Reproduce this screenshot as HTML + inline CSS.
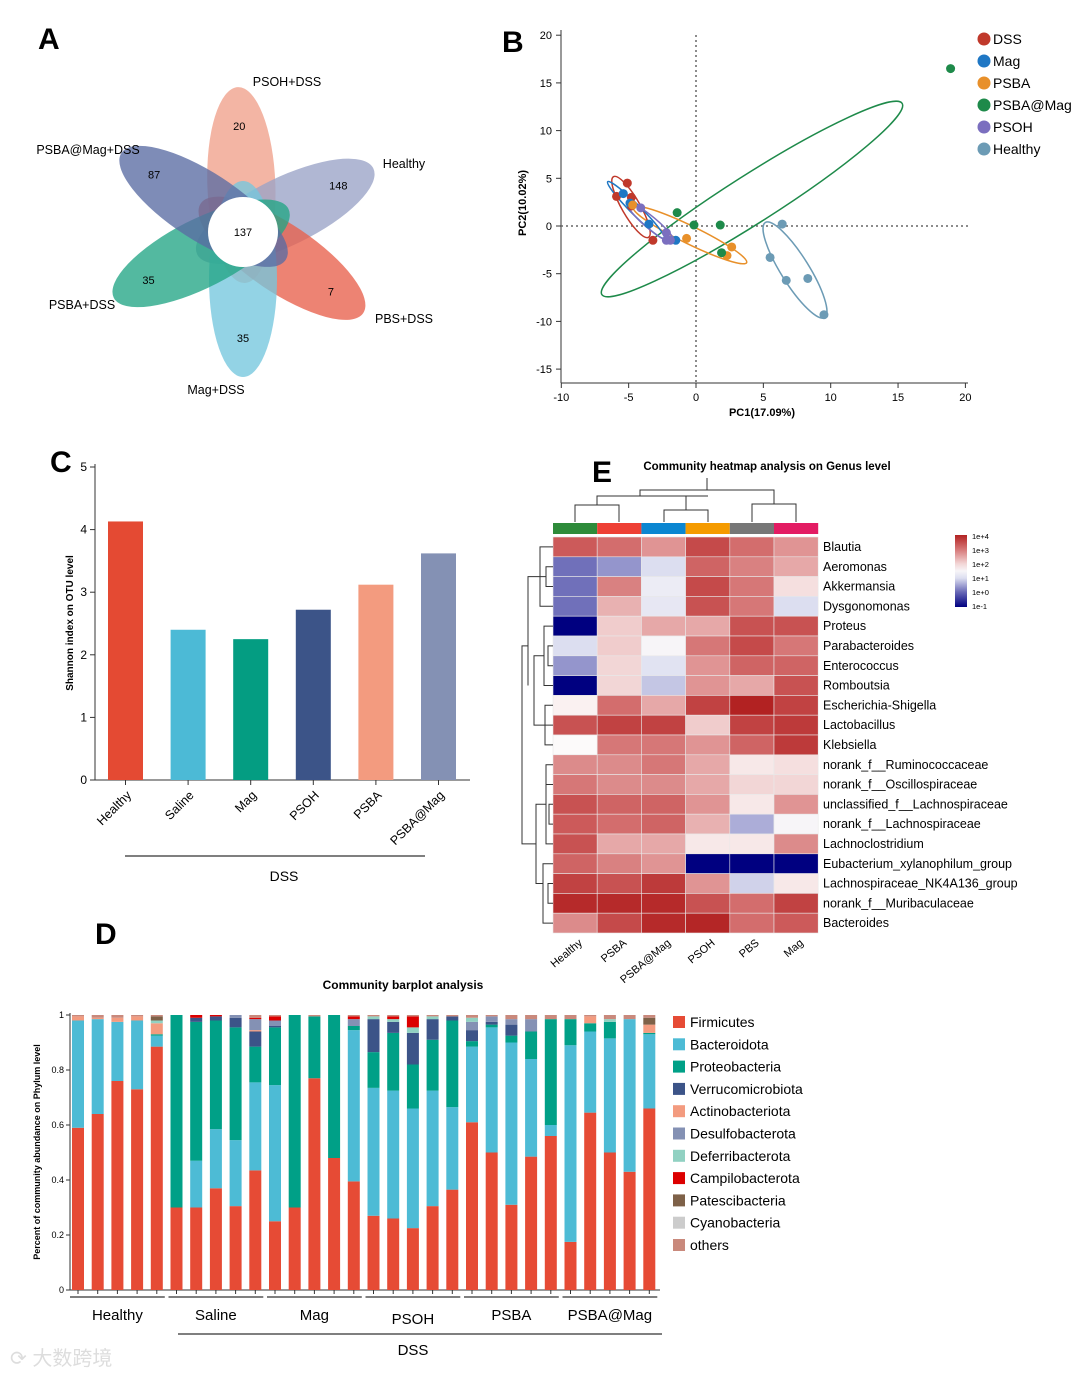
<!DOCTYPE html>
<html><head><meta charset="utf-8"><style>
body{margin:0;background:#fff}
svg{display:block;font-family:"Liberation Sans",Arial,sans-serif}
</style></head><body>
<svg id="fig" width="1080" height="1377" viewBox="0 0 1080 1377">
<text x="38" y="49" font-size="30" font-weight="bold">A</text>
<text x="502" y="52" font-size="30" font-weight="bold">B</text>
<text x="50" y="472" font-size="30" font-weight="bold">C</text>
<text x="592" y="482" font-size="30" font-weight="bold">E</text>
<text x="95" y="944" font-size="30" font-weight="bold">D</text>

<g id="venn"></g>
<g id="pca"></g>
<g id="shannon"></g>
<g id="heat"></g>
<g id="stack"></g>
<text x="10" y="1365" font-size="20" fill="#ddd" font-family="'Liberation Sans','Noto Sans CJK SC',sans-serif">⟳ 大数跨境</text>
</svg>
<script>
const NS="http://www.w3.org/2000/svg";
function mk(parent,tag,attrs,text){const e=document.createElementNS(NS,tag);for(const k in attrs)e.setAttribute(k,attrs[k]);if(text!==undefined)e.textContent=text;parent.appendChild(e);return e;}

// ---------- Venn (A) ----------
const vennSets=["PSOH+DSS","Healthy","PBS+DSS","Mag+DSS","PSBA+DSS","PSBA@Mag+DSS"];
const vennUnique=[20,148,7,35,35,87];
const vennCore=137;
const vennAngles=[-92,-26,34,90,153,-147];
const vennColors=["#f0a08a","#9aa3c6","#e8604c","#74c6de","#22a585","#5a6ca3"];
const venn=document.getElementById('venn');
const vc=[243,232];
vennSets.forEach((s,i)=>{
  const a=vennAngles[i]*Math.PI/180;
  const cx=vc[0]+47*Math.cos(a), cy=vc[1]+47*Math.sin(a);
  const e=mk(venn,'ellipse',{cx:cx,cy:cy,rx:98,ry:34,transform:`rotate(${vennAngles[i]} ${cx} ${cy})`,fill:vennColors[i],'fill-opacity':0.78});
  
  
  const tx=vc[0]+106*Math.cos(a), ty=vc[1]+106*Math.sin(a);
  const t=mk(venn,'text',{x:tx,y:ty+4,'font-size':11,'text-anchor':'middle'},vennUnique[i]);
  
  
});
mk(venn,'circle',{cx:vc[0],cy:vc[1],r:35,fill:'#fff'});
mk(venn,'text',{x:vc[0],y:vc[1]+4,'font-size':11,'text-anchor':'middle'},vennCore);
const vennLabelPos=[[287,86],[404,168],[404,323],[216,394],[82,309],[88,154]];
vennSets.forEach((s,i)=>{const t=mk(venn,'text',{x:vennLabelPos[i][0],y:vennLabelPos[i][1],'font-size':12.5,'text-anchor':'middle'},s);

});

// ---------- PCA (B) ----------
const pcaGroups=["DSS","Mag","PSBA","PSBA@Mag","PSOH","Healthy"];
const pcaColors=["#c0392b","#1f77c4","#e8902a","#1e8a4a","#7b6fbf","#6c9bb5"];
const pcaDSS=[[-5.1,4.5],[-5.9,3.1],[-4.8,3.0],[-4.8,2.1],[-3.2,-1.5]];
const pcaMag=[[-5.4,3.4],[-3.5,0.2],[-1.5,-1.5],[-4.9,2.4]];
const pcaPSBA=[[-4.7,2.2],[-0.7,-1.3],[2.65,-2.2],[2.3,-3.1]];
const pcaPSBAMag=[[-1.4,1.4],[-0.15,0.1],[1.8,0.1],[1.9,-2.8],[18.9,16.5]];
const pcaPSOH=[[-4.1,1.9],[-2.2,-0.7],[-2.2,-1.5],[-1.9,-1.5]];
const pcaHealthy=[[6.4,0.2],[5.5,-3.3],[6.7,-5.7],[8.3,-5.5],[9.5,-9.3]];
const pcaXTicks=[-10,-5,0,5,10,15,20];
const pcaYTicks=[20,15,10,5,0,-5,-10,-15];
const pca=document.getElementById('pca');
const px=v=>696+(v)*13.47, py=v=>226-v*9.54;
mk(pca,'line',{x1:561,y1:30,x2:561,y2:383,stroke:'#333'});
mk(pca,'line',{x1:561,y1:383,x2:968,y2:383,stroke:'#333'});
mk(pca,'line',{x1:px(0),y1:35,x2:px(0),y2:383,stroke:'#666','stroke-dasharray':'2,3','stroke-width':1.5});
mk(pca,'line',{x1:561,y1:py(0),x2:968,y2:py(0),stroke:'#666','stroke-dasharray':'2,3','stroke-width':1.5});
pcaXTicks.forEach(v=>{mk(pca,'line',{x1:px(v),y1:383,x2:px(v),y2:388,stroke:'#333'});
 const t=mk(pca,'text',{x:px(v),y:401,'font-size':11,'text-anchor':'middle'},v);
 
 });
pcaYTicks.forEach(v=>{mk(pca,'line',{x1:556,y1:py(v),x2:561,y2:py(v),stroke:'#333'});
 const t=mk(pca,'text',{x:552,y:py(v)+4,'font-size':11,'text-anchor':'end'},v);
 
 });
const xt=mk(pca,'text',{x:762,y:416,'font-size':11,'font-weight':'bold','text-anchor':'middle'},'PC1(17.09%)');

const yt=mk(pca,'text',{x:0,y:0,'font-size':11,'font-weight':'bold','text-anchor':'middle',transform:'translate(526,203) rotate(-90)'},'PC2(10.02%)');

const ells=[[752,199,178,24,-32.5,3],[690,235,63,9,26,2],[631,207,35,9,60,0],[636,210,40,5,45,1],[651,223,30,6,40,4],[795,270,56,14,58,5]];
ells.forEach(e=>{const el=mk(pca,'ellipse',{cx:e[0],cy:e[1],rx:e[2],ry:e[3],transform:`rotate(${e[4]} ${e[0]} ${e[1]})`,fill:'none',stroke:pcaColors[e[5]],'stroke-width':1.5});
 });
[pcaDSS,pcaMag,pcaPSBA,pcaPSBAMag,pcaPSOH,pcaHealthy].forEach((arr,g)=>arr.forEach(p=>{
 const c=mk(pca,'circle',{cx:px(p[0]),cy:py(p[1]),r:4.5,fill:pcaColors[g]});
 
 }));
pcaGroups.forEach((g,i)=>{const y=39+i*22;
 mk(pca,'circle',{cx:984,cy:y,r:6.5,fill:pcaColors[i]});
 const t=mk(pca,'text',{x:993,y:y+5,'font-size':14},g);
 
 });

// ---------- Shannon (C) ----------
const shCats=["Healthy","Saline","Mag","PSOH","PSBA","PSBA@Mag"];
const shVals=[4.13,2.4,2.25,2.72,3.12,3.62];
const shColors=["#e44a33","#4cbad6","#049d82","#3c5488","#f39b7f","#8491b4"];
const shTicks=[0,1,2,3,4,5];
const sh=document.getElementById('shannon');
const sy=v=>780-v*62.6, sx=i=>108+i*62.6;
mk(sh,'line',{x1:95,y1:464,x2:95,y2:780,stroke:'#333'});
mk(sh,'line',{x1:95,y1:780,x2:470,y2:780,stroke:'#333'});
shTicks.forEach(v=>{mk(sh,'line',{x1:90,y1:sy(v),x2:95,y2:sy(v),stroke:'#333'});
 const t=mk(sh,'text',{x:87,y:sy(v)+4,'font-size':12,'text-anchor':'end'},v);
 });
shVals.forEach((v,i)=>{const r=mk(sh,'rect',{x:sx(i),y:sy(v),width:35,height:v*62.6,fill:shColors[i]});
 
 mk(sh,'line',{x1:sx(i)+17.5,y1:780,x2:sx(i)+17.5,y2:785,stroke:'#333'});
 const t=mk(sh,'text',{x:0,y:0,'font-size':12.5,'text-anchor':'end',transform:`translate(${sx(i)+24},${796}) rotate(-45)`},shCats[i]);
 });
mk(sh,'line',{x1:125,y1:856,x2:425,y2:856,stroke:'#555','stroke-width':1.5});
mk(sh,'text',{x:284,y:881,'font-size':14,'text-anchor':'middle'},'DSS');
const st=mk(sh,'text',{x:0,y:0,'font-size':10,'font-weight':'bold','text-anchor':'middle',transform:'translate(73,623) rotate(-90)'},'Shannon index on OTU level');


// ---------- Heatmap (E) ----------
const hmCols=["Healthy","PSBA","PSBA@Mag","PSOH","PBS","Mag"];
const hmColColors=["#2e8b3a","#ee4035","#0b86d1","#f59b00","#777777","#e31c63"];
const hmRows=["Blautia","Aeromonas","Akkermansia","Dysgonomonas","Proteus","Parabacteroides","Enterococcus","Romboutsia","Escherichia-Shigella","Lactobacillus","Klebsiella","norank_f__Ruminococcaceae","norank_f__Oscillospiraceae","unclassified_f__Lachnospiraceae","norank_f__Lachnospiraceae","Lachnoclostridium","Eubacterium_xylanophilum_group","Lachnospiraceae_NK4A136_group","norank_f__Muribaculaceae","Bacteroides"];
const hmVals=[
[3.3,3.1,2.7,3.5,3.1,2.7],[0.1,0.4,1.0,3.2,2.9,2.5],[0.1,2.9,1.3,3.5,3.0,1.9],[0.1,2.4,1.2,3.4,3.0,1.0],
[-1,2.1,2.5,2.5,3.4,3.4],[1.0,2.1,1.5,3.0,3.5,3.0],[0.4,2.0,1.1,2.7,3.2,3.2],[-1,2.0,0.8,2.7,2.5,3.4],
[1.7,3.1,2.5,3.6,4.0,3.6],[3.4,3.6,3.6,2.1,3.6,3.7],[1.6,3.0,3.0,2.7,3.2,3.7],[2.8,2.8,3.0,2.5,1.8,1.9],
[3.0,2.8,2.8,2.5,2.0,2.0],[3.4,3.2,3.2,2.7,1.8,2.7],[3.3,3.1,3.2,2.4,0.6,1.5],[3.4,2.5,2.5,1.8,1.8,2.8],
[3.2,2.9,2.7,-1,-1,-1],[3.6,3.4,3.7,2.7,0.9,1.8],[3.9,3.9,3.9,3.4,3.1,3.6],[2.8,3.5,3.9,3.95,3.1,3.3]];
const hmLegend=["1e+4","1e+3","1e+2","1e+1","1e+0","1e-1"];
const stops=[[-1,[0,0,128]],[0,[100,100,180]],[1,[220,222,240]],[1.6,[252,250,250]],[2.5,[230,168,168]],[3.3,[204,90,90]],[4,[178,34,34]]];
function hcol(v){for(let i=1;i<stops.length;i++){if(v<=stops[i][0]){const a=stops[i-1],b=stops[i];const t=(v-a[0])/(b[0]-a[0]);const c=a[1].map((x,k)=>Math.round(x+(b[1][k]-x)*t));return `rgb(${c})`;}}return 'rgb(178,34,34)';}
const hm=document.getElementById('heat');
const HX=553,HY=537,CW=44.2,CH=19.8;
mk(hm,'text',{x:767,y:470,'font-size':11.5,'font-weight':'bold','text-anchor':'middle'},'Community heatmap analysis on Genus level');
hmCols.forEach((c,j)=>{const r=mk(hm,'rect',{x:HX+j*CW,y:523,width:CW,height:11,fill:hmColColors[j]});
 
 const t=mk(hm,'text',{x:0,y:0,'font-size':11,'text-anchor':'end',transform:`translate(${HX+j*CW+30},${944}) rotate(-40)`},c);
 });
hmVals.forEach((row,i)=>row.forEach((v,j)=>{const r=mk(hm,'rect',{x:HX+j*CW,y:HY+i*CH,width:CW,height:CH,fill:hcol(v),stroke:'#e8e8e8','stroke-width':0.6});
 }));
hmRows.forEach((n,i)=>{const t=mk(hm,'text',{x:823,y:HY+i*CH+14,'font-size':12.5},n);
 });
mk(hm,'path',{d:"M575,522 V505 H619 V522 M597,505 V496 H708 M664,522 V510 H708 V522 M686,510 V496 M752,522 V504 H796 V522 M774,504 V490 H640 V496 M707,490 V478",fill:'none',stroke:'#333','stroke-width':1});
let ld="";
const rowY=i=>HY+i*CH+CH/2;
ld+=`M553,${rowY(0)} H540 V${rowY(3)} H553 M553,${rowY(1)} H546 V${rowY(2)} H553 M546,${(rowY(1)+rowY(2))/2} H540 `;
ld+=`M553,${rowY(4)} H544 V${rowY(7)} H553 M553,${rowY(5)} H548 V${rowY(6)} H553 M553,${rowY(8)} H545 V${rowY(10)} H553 M553,${rowY(9)} H545 `;
ld+=`M540,${(rowY(0)+rowY(3))/2} H528 V${(rowY(4)+rowY(10))/2} M544,${(rowY(4)+rowY(7))/2} H534 V${(rowY(8)+rowY(10))/2} H545 `;
ld+=`M553,${rowY(11)} H546 V${rowY(15)} H553 M553,${rowY(12)} H546 M553,${rowY(13)} H549 V${rowY(14)} H553 M553,${rowY(16)} H543 V${rowY(19)} H553 M553,${rowY(17)} H548 V${rowY(18)} H553 `;
ld+=`M546,${rowY(13)} H536 V${rowY(17)} H543 M536,${rowY(15)} H522 V${rowY(5)} H528`;
mk(hm,'path',{d:ld,fill:'none',stroke:'#333','stroke-width':1});
const lg=mk(hm,'defs',{});const grad=mk(lg,'linearGradient',{id:'hg',x1:0,y1:0,x2:0,y2:1});
[4,3,2,1.5,1,0,-1].forEach((v,k)=>mk(grad,'stop',{offset:(4-v)/5,'stop-color':hcol(v)}));
mk(hm,'rect',{x:955,y:535,width:12,height:72,fill:'url(#hg)'});
hmLegend.forEach((l,k)=>{const t=mk(hm,'text',{x:972,y:539+k*14,'font-size':7.5},l);
 });

// ---------- Stacked barplot (D) ----------
const phyla=["Firmicutes","Bacteroidota","Proteobacteria","Verrucomicrobiota","Actinobacteriota","Desulfobacterota","Deferribacterota","Campilobacterota","Patescibacteria","Cyanobacteria","others"];
const phylaColors=["#e64b35","#4dbbd5","#00a087","#3c5488","#f39b7f","#8491b4","#91d1c2","#dc0000","#7e6148","#cccccc","#c9897c"];
const firm=[.59,.64,.76,.73,.885,.30,.30,.37,.305,.435,.25,.30,.77,.48,.395,.27,.26,.225,.305,.365,.61,.50,.31,.485,.56,.175,.645,.50,.43,.66];
const bact=[.39,.345,.215,.25,.04,0,.17,.215,.24,.32,.495,0,0,0,.55,.465,.465,.435,.42,.30,.275,.455,.59,.355,.04,.715,.295,.415,.555,.27];
const prot=[0,0,0,0,.005,.70,.505,.395,.41,.13,.21,.70,.225,.52,.015,.13,.21,.16,.185,.315,.02,.01,.025,.10,.385,.095,.03,.06,0,.005];
const verr=[0,0,0,0,0,0,.015,.015,.035,.055,.005,0,0,0,0,.12,.04,.115,.075,.015,.04,.01,.04,0,0,0,0,0,0,0];
const actino=[.015,.005,.015,.015,.04,0,0,0,0,.005,0,0,0,0,0,0,0,0,0,0,0,0,0,0,0,0,.025,0,0,.03];
const desulfo=[0,0,0,0,0,0,0,0,.01,.04,.02,0,0,0,.025,0,0,0,0,0,.03,.02,.02,.045,0,0,0,0,0,0];
const deferri=[0,0,0,0,.01,0,0,0,0,0,0,0,0,0,0,.01,.01,.02,.01,0,.015,0,0,0,0,0,0,.01,0,0];
const campylo=[0,0,0,0,0,0,.01,.005,0,.005,.015,0,0,0,.01,0,.01,.04,0,0,0,0,0,0,0,0,0,0,0,0];
const patesci=[0,0,0,0,.015,0,0,0,0,0,0,0,0,0,0,0,0,0,0,0,0,0,0,0,0,0,0,0,0,.025];
const cyano=[0,0,0,0,0,0,0,0,0,0,0,0,0,0,0,0,0,0,0,0,0,0,0,0,0,0,0,0,0,0];
const series=[firm,bact,prot,verr,actino,desulfo,deferri,campylo,patesci,cyano];
const groupNames=["Healthy","Saline","Mag","PSOH","PSBA","PSBA@Mag"];
const yTicksD=[0,0.2,0.4,0.6,0.8,1];
const sb=document.getElementById('stack');
const dy=v=>1290-v*275, dx=i=>72+i*19.7;
mk(sb,'text',{x:403,y:989,'font-size':12,'font-weight':'bold','text-anchor':'middle'},'Community barplot analysis');
mk(sb,'line',{x1:70,y1:1013,x2:70,y2:1290,stroke:'#333'});
mk(sb,'line',{x1:70,y1:1290,x2:660,y2:1290,stroke:'#333'});
yTicksD.forEach(v=>{mk(sb,'line',{x1:66,y1:dy(v),x2:70,y2:dy(v),stroke:'#333'});
 const t=mk(sb,'text',{x:64,y:dy(v)+3,'font-size':9,'text-anchor':'end'},v);
 });
const dyt=mk(sb,'text',{x:0,y:0,'font-size':9,'font-weight':'bold','text-anchor':'middle',transform:'translate(40,1152) rotate(-90)'},'Percent of community abundance on Phylum level');

firm.forEach((_,i)=>{let acc=0;
 const vals=series.map(s=>s[i]);const other=Math.max(0,1-vals.reduce((a,b)=>a+b,0));vals.push(other);
 vals.forEach((v,k)=>{if(v<=0)return;const r=mk(sb,'rect',{x:dx(i),y:dy(acc+v),width:12,height:v*275,fill:phylaColors[k]});
  acc+=v;});
 mk(sb,'line',{x1:dx(i)+6,y1:1290,x2:dx(i)+6,y2:1294,stroke:'#333'});});
groupNames.forEach((g,k)=>{const x1=dx(k*5)-2,x2=dx(k*5+4)+14;
 mk(sb,'line',{x1:x1,y1:1297,x2:x2,y2:1297,stroke:'#555','stroke-width':1.5});
 const t=mk(sb,'text',{x:(x1+x2)/2,y:k==3?1324:1320,'font-size':15,'text-anchor':'middle'},g);
 });
mk(sb,'line',{x1:178,y1:1334,x2:662,y2:1334,stroke:'#555','stroke-width':1.5});
mk(sb,'text',{x:413,y:1355,'font-size':15,'text-anchor':'middle'},'DSS');
phyla.forEach((p,k)=>{const y=1016+k*22.3;
 mk(sb,'rect',{x:673,y:y,width:12,height:12,fill:phylaColors[k]});
 const t=mk(sb,'text',{x:690,y:y+11,'font-size':14},p);
 });
</script>
</body></html>
